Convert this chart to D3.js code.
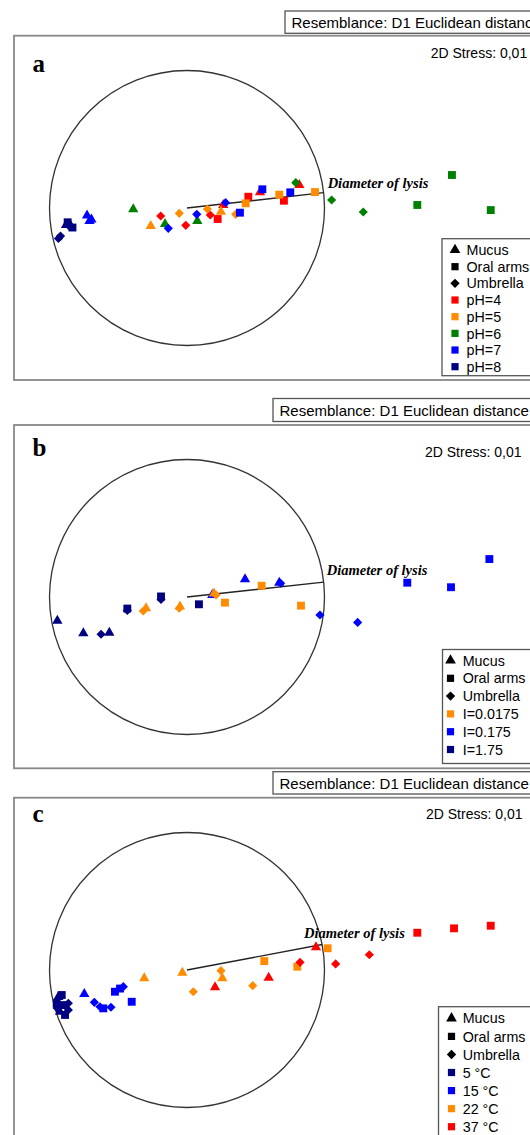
<!DOCTYPE html>
<html lang="en">
<head>
    <meta charset="UTF-8">
    <title>nMDS lysis diameter</title>
    <script src="https://d3js.org/d3.v7.min.js"></script>
    <style>
        body {
            margin: 0;
            background-color: #fff;
        }
        .sans { font-family: "Liberation Sans", Arial, sans-serif; fill: #000; }
        .serif { font-family: "Liberation Serif", "Times New Roman", serif; fill: #000; }
    </style>
</head>
<body>
    <div id="chart"></div>
    <script>
        // Tissues (marker shape) and treatment groups (marker colour)
        const tissues = ["Mucus", "Oral arms", "Umbrella"];
        const phGroups = ["pH=4", "pH=5", "pH=6", "pH=7", "pH=8"];
        const ionGroups = ["I=0.0175", "I=0.175", "I=1.75"];
        const tempGroups = ["5 °C", "15 °C", "22 °C", "37 °C"];

        const stressLabel = "2D Stress: 0,01";
        const resemblanceLabel = "Resemblance: D1 Euclidean distance";
        const lysisLabel = "Diameter of lysis";

        // angle (degrees) of the "diameter of lysis" radius, per panel
        const lysisAngles = [6.4, 6.2, 10.7];

        // nMDS coordinates in units of the lysis circle radius: [group, tissue, mds1, mds2]
        // M = Mucus, O = Oral arms, U = Umbrella
        const pointsA = [
            ["pH=4", "U", -0.191, -0.058], ["pH=4", "U", -0.009, -0.126], ["pH=4", "U", 0.169, -0.051],
            ["pH=4", "O", 0.223, -0.080], ["pH=4", "O", 0.446, 0.082], ["pH=4", "O", 0.705, 0.053],
            ["pH=4", "M", 0.264, 0.022], ["pH=4", "M", 0.531, 0.114], ["pH=4", "M", 0.817, 0.167],
            ["pH=5", "M", -0.264, -0.131], ["pH=5", "M", 0.247, -0.027],
            ["pH=5", "U", -0.056, -0.039], ["pH=5", "U", 0.148, -0.007], ["pH=5", "U", 0.354, -0.046],
            ["pH=5", "O", 0.427, 0.034], ["pH=5", "O", 0.671, 0.097], ["pH=5", "O", 0.931, 0.116],
            ["pH=6", "M", -0.391, -0.009], ["pH=6", "M", -0.160, -0.116], ["pH=6", "M", 0.075, -0.095],
            ["pH=6", "U", 0.791, 0.184], ["pH=6", "U", 1.052, 0.058], ["pH=6", "U", 1.282, -0.029],
            ["pH=6", "O", 1.675, 0.022], ["pH=6", "O", 1.927, 0.240], ["pH=6", "O", 2.209, -0.015],
            ["pH=7", "M", -0.727, -0.055], ["pH=7", "M", -0.695, -0.084], ["pH=7", "M", -0.709, -0.095],
            ["pH=7", "U", -0.136, -0.148], ["pH=7", "U", 0.071, -0.046], ["pH=7", "U", 0.281, 0.039],
            ["pH=7", "O", 0.385, -0.034], ["pH=7", "O", 0.548, 0.136], ["pH=7", "O", 0.751, 0.114],
            ["pH=8", "U", -0.935, -0.222], ["pH=8", "U", -0.920, -0.204], ["pH=8", "U", -0.858, -0.131],
            ["pH=8", "O", -0.868, -0.104], ["pH=8", "O", -0.833, -0.142],
            ["pH=8", "M", -0.851, -0.120], ["pH=8", "M", -0.880, -0.124]
        ];

        const pointsB = [
            ["I=0.175", "M", 0.184, 0.015], ["I=0.175", "M", 0.422, 0.129], ["I=0.175", "M", 0.671, 0.104],
            ["I=0.175", "U", 0.681, 0.100], ["I=0.175", "U", 0.967, -0.131], ["I=0.175", "U", 1.241, -0.185],
            ["I=0.175", "O", 1.602, 0.104], ["I=0.175", "O", 1.920, 0.071], ["I=0.175", "O", 2.199, 0.276],
            ["I=0.0175", "M", -0.298, -0.082], ["I=0.0175", "M", -0.051, -0.069], ["I=0.0175", "M", 0.196, 0.025],
            ["I=0.0175", "U", -0.318, -0.102], ["I=0.0175", "U", -0.056, -0.082], ["I=0.0175", "U", 0.211, 0.015],
            ["I=0.0175", "O", 0.276, -0.041], ["I=0.0175", "O", 0.543, 0.082], ["I=0.0175", "O", 0.829, -0.063],
            ["I=1.75", "M", -0.943, -0.172], ["I=1.75", "M", -0.754, -0.264], ["I=1.75", "M", -0.565, -0.260],
            ["I=1.75", "U", -0.625, -0.271], ["I=1.75", "U", -0.434, -0.098], ["I=1.75", "U", -0.189, -0.018],
            ["I=1.75", "O", -0.434, -0.084], ["I=1.75", "O", -0.189, 0.004], ["I=1.75", "O", 0.087, -0.053]
        ];

        const pointsC = [
            ["5 °C", "O", -0.911, -0.182], ["5 °C", "M", -0.936, -0.196], ["5 °C", "O", -0.948, -0.242],
            ["5 °C", "U", -0.863, -0.242], ["5 °C", "O", -0.900, -0.255], ["5 °C", "M", -0.924, -0.303],
            ["5 °C", "U", -0.863, -0.291], ["5 °C", "O", -0.887, -0.327], ["5 °C", "U", -0.945, -0.276],
            ["15 °C", "M", -0.747, -0.175], ["15 °C", "O", -0.524, -0.158], ["15 °C", "O", -0.487, -0.135],
            ["15 °C", "U", -0.463, -0.121], ["15 °C", "U", -0.674, -0.235], ["15 °C", "U", -0.633, -0.267],
            ["15 °C", "O", -0.609, -0.279], ["15 °C", "U", -0.553, -0.271], ["15 °C", "O", -0.402, -0.231],
            ["22 °C", "M", -0.311, -0.060], ["22 °C", "M", -0.034, -0.020], ["22 °C", "M", 0.257, -0.060],
            ["22 °C", "U", 0.046, -0.158], ["22 °C", "U", 0.247, -0.005], ["22 °C", "U", 0.478, -0.114],
            ["22 °C", "O", 0.562, 0.065], ["22 °C", "O", 0.802, 0.024], ["22 °C", "O", 1.023, 0.158],
            ["37 °C", "M", 0.204, -0.126], ["37 °C", "M", 0.594, -0.056], ["37 °C", "M", 0.938, 0.165],
            ["37 °C", "U", 0.822, 0.056], ["37 °C", "U", 1.081, 0.044], ["37 °C", "U", 1.326, 0.111],
            ["37 °C", "O", 1.675, 0.271], ["37 °C", "O", 1.942, 0.303], ["37 °C", "O", 2.209, 0.322]
        ];

        const tissueCode = { M: "Mucus", O: "Oral arms", U: "Umbrella" };

        // page layout (pixels) for each of the three panels
        const layout = [
            { letter: "a", groups: phGroups, points: pointsA,
              colors: ["#ff0000", "#ff8c00", "#008000", "#0000ff", "#000080"],
              resBox: [285, 11, 22.3], frameTop: 35.7, frameBottom: 380, cy: 208,
              letterY: 71.5, stress: [430.7, 57.5], lysisText: [4, -4.5],
              legend: { x: 442, y: 238.7, h: 137, first: 250, step: 16.67, sx: 455, tx: 466.5 } },
            { letter: "b", groups: ionGroups, points: pointsB,
              colors: ["#ff8c00", "#0000ff", "#000080"],
              resBox: [273, 398.5, 23], frameTop: 425, frameBottom: 768.3, cy: 597,
              letterY: 456, stress: [425, 457], lysisText: [3, -7],
              legend: { x: 442.5, y: 649.5, h: 114, first: 660.5, step: 17.8, sx: 450.5, tx: 462.7 } },
            { letter: "c", groups: tempGroups, points: pointsC,
              colors: ["#000080", "#0000ff", "#ff8c00", "#ff0000"],
              resBox: [273, 771.7, 22.3], frameTop: 797.7, frameBottom: 1160, cy: 970,
              letterY: 822, stress: [426, 819.3], lysisText: [-18, -6.7],
              legend: { x: 438.5, y: 1006.7, h: 160, first: 1018.3, step: 18.07, sx: 451.5, tx: 462.7 } }
        ];

        // drawing order inside each panel (earlier = underneath)
        const drawOrder = [
            ["pH=4", "pH=5", "pH=6", "pH=7", "pH=8"],
            ["I=0.175", "I=0.0175", "I=1.75"],
            ["5 °C", "15 °C", "22 °C", "37 °C"]
        ];

        const width = 530, height = 1135;
        const cx = 187, R = 137.5;

        const svg = d3.select('#chart').append('svg')
            .attr('width', width)
            .attr('height', height)
            .style('display', 'block');

        function markerPath(tissue, big) {
            if (tissue === "Mucus") return d3.symbol(d3.symbolTriangle, big ? 50 : 46)();
            if (tissue === "Oral arms") return d3.symbol(d3.symbolSquare, big ? 52 : 62)();
            return d3.symbol(d3.symbolSquare, big ? 44 : 42)(); // rotated below -> diamond
        }

        function place(tissue, px, py) {
            const rot = tissue === "Umbrella" ? ' rotate(45)' : '';
            return `translate(${px},${py})${rot}`;
        }

        layout.forEach((p, i) => {
            const g = svg.append('g');

            const x = d3.scaleLinear().domain([-1, 1]).range([cx - R, cx + R]);
            const y = d3.scaleLinear().domain([-1, 1]).range([p.cy + R, p.cy - R]);
            const color = d3.scaleOrdinal().domain(p.groups).range(p.colors);

            // resemblance box above the frame
            g.append('rect')
                .attr('x', p.resBox[0]).attr('y', p.resBox[1])
                .attr('width', 300).attr('height', p.resBox[2])
                .attr('fill', '#fff').attr('stroke', '#555').attr('stroke-width', 1.3);
            g.append('text')
                .attr('class', 'sans')
                .attr('x', p.resBox[0] + 6.5).attr('y', p.resBox[1] + p.resBox[2] - 5.3)
                .style('font-size', '15px')
                .text(resemblanceLabel);

            // panel frame
            g.append('rect')
                .attr('x', 14).attr('y', p.frameTop)
                .attr('width', 540).attr('height', p.frameBottom - p.frameTop)
                .attr('fill', 'none').attr('stroke', '#888').attr('stroke-width', 1.8);

            g.append('text')
                .attr('class', 'serif')
                .attr('x', 32.5).attr('y', p.letterY)
                .style('font-size', '25px').style('font-weight', 'bold')
                .text(p.letter);

            g.append('text')
                .attr('class', 'sans')
                .attr('x', p.stress[0]).attr('y', p.stress[1])
                .style('font-size', '14px')
                .text(stressLabel);

            // lysis circle and its radius
            g.append('circle')
                .attr('cx', x(0)).attr('cy', y(0))
                .attr('r', x(1) - x(0))
                .attr('fill', 'none').attr('stroke', '#333').attr('stroke-width', 1.3);

            const a = lysisAngles[i] * Math.PI / 180;
            const ex = x(Math.cos(a)), ey = y(Math.sin(a));
            g.append('line')
                .attr('x1', x(0)).attr('y1', y(0))
                .attr('x2', ex).attr('y2', ey)
                .attr('stroke', '#222').attr('stroke-width', 1.4);

            // points
            const rows = p.points
                .map(d => ({ group: d[0], tissue: tissueCode[d[1]], m1: d[2], m2: d[3] }))
                .sort((u, v) => drawOrder[i].indexOf(u.group) - drawOrder[i].indexOf(v.group));

            g.selectAll('path.pt')
                .data(rows)
                .enter()
                .append('path')
                .attr('class', 'pt')
                .attr('d', d => markerPath(d.tissue, false))
                .attr('transform', d => place(d.tissue, x(d.m1), y(d.m2)))
                .attr('fill', d => color(d.group));

            g.append('text')
                .attr('class', 'serif')
                .attr('x', ex + p.lysisText[0]).attr('y', ey + p.lysisText[1])
                .style('font-size', '14.5px').style('font-weight', 'bold').style('font-style', 'italic')
                .text(lysisLabel);

            // legend
            const L = p.legend;
            g.append('rect')
                .attr('x', L.x).attr('y', L.y)
                .attr('width', 200).attr('height', L.h)
                .attr('fill', '#fff').attr('stroke', '#555').attr('stroke-width', 1.3);

            const items = tissues.map(t => ({ label: t, tissue: t, fill: '#000' }))
                .concat(p.groups.map(gr => ({ label: gr, tissue: null, fill: color(gr) })));

            const item = g.selectAll('.legend-item')
                .data(items)
                .enter()
                .append('g')
                .attr('class', 'legend-item')
                .attr('transform', (d, k) => `translate(0, ${L.first + k * L.step})`);

            item.append('path')
                .attr('d', d => d.tissue ? markerPath(d.tissue, true) : d3.symbol(d3.symbolSquare, 52)())
                .attr('transform', d => place(d.tissue, L.sx, 0))
                .attr('fill', d => d.fill);

            item.append('text')
                .attr('class', 'sans')
                .attr('x', L.tx).attr('dy', '0.36em')
                .style('font-size', '14.3px')
                .text(d => d.label);
        });
    </script>
</body>
</html>
